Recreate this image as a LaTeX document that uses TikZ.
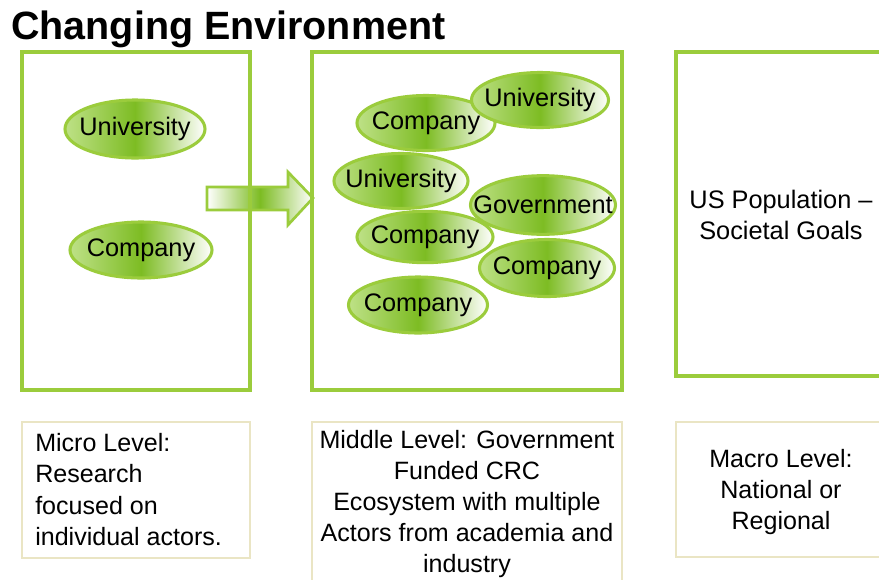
\documentclass[tikz,border=0pt]{standalone}
\usepackage{fontspec}
\setmainfont{Liberation Sans}
\usetikzlibrary{shapes.geometric}
\definecolor{frame}{RGB}{155,204,60}
\definecolor{blobmid}{RGB}{125,188,35}
\definecolor{blobside}{RGB}{190,225,135}
\definecolor{notebd}{RGB}{234,229,196}
\newcommand\zw[1]{\makebox[0pt]{#1}}
\tikzset{
  stage/.style={draw=frame, line width=2.4pt, inner sep=0pt},
  note/.style={draw=notebd, line width=1.5pt, fill=white, inner sep=0pt},
  actor/.style={ellipse, draw=frame, line width=2.3pt, inner sep=0pt,
    left color=blobside, right color=white, middle color=blobmid,
    font=\fontsize{19}{22}\selectfont},
  body/.style={font=\fontsize{18.8}{23.3}\selectfont, inner sep=0pt}
}
\begin{document}
\begin{tikzpicture}[x=0.75pt,y=-0.75pt]
\clip (0,0) rectangle (879,579);
\fill[white] (0,0) rectangle (879,579);

% heading
\node[anchor=base west, inner sep=0pt, font=\fontsize{29.6}{33}\selectfont\bfseries] (title) at (11,39) {Changing Environment};

% block arrow between the first two stages
\path[draw=frame, line width=2pt, left color=white, right color=white, middle color=blobmid]
  (207,187) -- (288,187) -- (288,172) -- (313,198) -- (288,225) -- (288,210) -- (207,210) -- cycle;

% three stages
\node[stage, minimum width=171pt, minimum height=253.5pt] (micro) at (136,221) {};
\node[stage, minimum width=232.5pt, minimum height=253.5pt] (middle) at (467,221) {};
\node[stage, minimum width=160.5pt, minimum height=243pt] (macro) at (783,214) {};

% actors of the micro level
\node[actor, minimum width=105pt, minimum height=43.5pt] (u1) at (135,129) {\zw{University}};
\node[actor, minimum width=106.5pt, minimum height=42pt] (c1) at (141,250) {\zw{Company}};

% actors of the middle level
\node[actor, minimum width=103.5pt, minimum height=41.25pt] (c2) at (426,123) {\zw{Company}};
\node[actor, minimum width=102.75pt, minimum height=41.25pt] (u2) at (540,100) {\zw{University}};
\node[actor, minimum width=100.5pt, minimum height=41.25pt] (u3) at (401,181) {\zw{University}};
\node[actor, minimum width=108.75pt, minimum height=44pt] (g1) at (543,205) {\zw{Government}};
\node[actor, minimum width=102pt, minimum height=38.5pt] (c3) at (425,237) {\zw{Company}};
\node[actor, minimum width=101.25pt, minimum height=42.75pt] (c4) at (547,268) {\zw{Company}};
\node[actor, minimum width=104.25pt, minimum height=42pt] (c5) at (418,305) {\zw{Company}};

% macro level
\node[body, align=center, font=\fontsize{19}{23}\selectfont] (goals) at (781,215) {US Population –\\Societal Goals};

% captions
\node[note, minimum width=171pt, minimum height=102pt] (capA) at (136,490) {};
\node[note, minimum width=232.5pt, minimum height=122.25pt] (capB) at (467,503.5) {};
\node[note, minimum width=156.75pt, minimum height=101.25pt] (capC) at (780.5,489.5) {};

\node[body, anchor=west, align=left] (txtA) at (35,489.5) {Micro Level:\\Research\\focused on\\individual actors.};
\node[body, align=center] (txtB) at (467,504) {Middle Level: Government\\Funded CRC\\Ecosystem with multiple\\Actors from academia and\\industry};
\node[body, align=center] (txtC) at (781,492) {Macro Level:\\National or\\Regional};
\end{tikzpicture}
\end{document}
